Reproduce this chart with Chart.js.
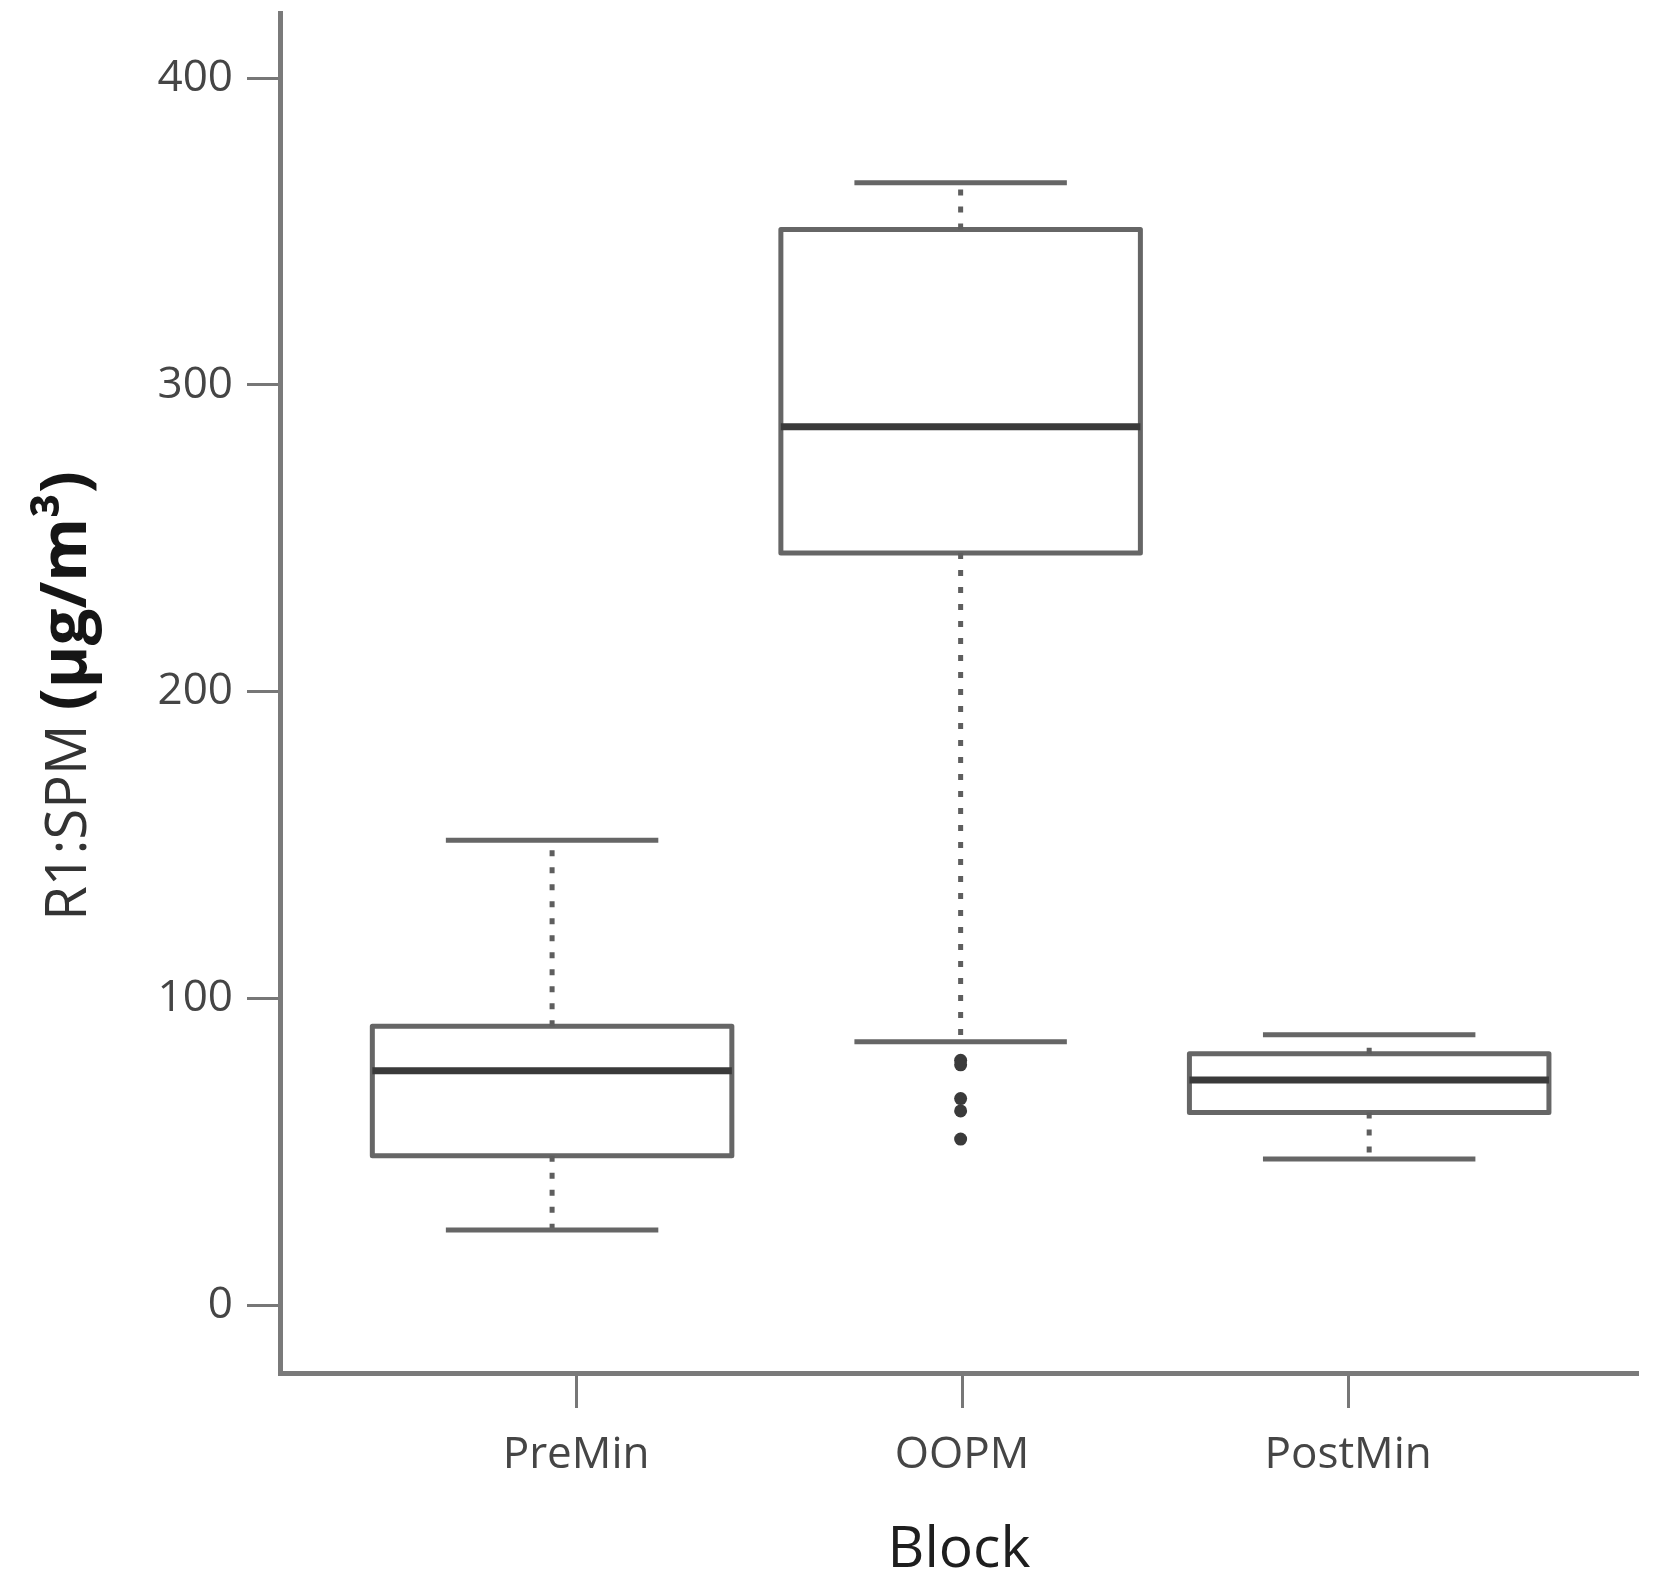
<!DOCTYPE html>
<html>
<head>
<meta charset="utf-8">
<script src="https://cdn.jsdelivr.net/npm/chart.js@4.4.1/dist/chart.umd.min.js"></script>
<style>
  html, body { margin: 0; padding: 0; background: #ffffff; }
  #wrap { width: 1671px; height: 1595px; position: relative; }
  canvas { display: block; }
</style>
</head>
<body>
<div id="wrap"><canvas id="c" width="1671" height="1595"></canvas></div>
<script>
// ---------------- data ----------------
const categories   = ['PreMin', 'OOPM', 'PostMin'];
const whiskerLow   = [24.7, 86.0, 47.8];
const q1           = [48.9, 245.3, 63.0];
const median       = [76.6, 286.4, 73.6];
const q3           = [91.1, 350.7, 82.1];
const whiskerHigh  = [151.7, 365.9, 88.3];
const outlierGroup  = ['OOPM', 'OOPM', 'OOPM', 'OOPM', 'OOPM'];
const outlierValues = [80.0, 78.5, 67.5, 63.5, 54.3];
const yTicks = [0, 100, 200, 300, 400];
const yTitleMain = 'R1:SPM';
const yTitleUnit = '(μg/m³)';
const xTitle = 'Block';

// ---------------- styles ----------------
const BOX_HALF = 0.44;   // half box width, in category units
const CAP_HALF = 0.26;   // half whisker-cap width, in category units
const AXIS_GREY = '#7a7a7a';
const LINE_GREY = '#666666';
const FONT = "'Open Sans', 'Noto Sans', sans-serif";

const pos = i => i + 1;

// ---------------- datasets built from the arrays ----------------
const boxData = [];
const whiskerData = [];
const capData = [];
const medianData = [];
categories.forEach((c, i) => {
  const x = pos(i);
  boxData.push({ x: x - BOX_HALF, y: q1[i] }, { x: x + BOX_HALF, y: q1[i] },
               { x: x + BOX_HALF, y: q3[i] }, { x: x - BOX_HALF, y: q3[i] },
               { x: x - BOX_HALF, y: q1[i] }, { x, y: null });
  whiskerData.push({ x, y: q3[i] }, { x, y: whiskerHigh[i] }, { x, y: null },
                   { x, y: q1[i] }, { x, y: whiskerLow[i] }, { x, y: null });
  capData.push({ x: x - CAP_HALF, y: whiskerHigh[i] }, { x: x + CAP_HALF, y: whiskerHigh[i] }, { x, y: null },
               { x: x - CAP_HALF, y: whiskerLow[i] }, { x: x + CAP_HALF, y: whiskerLow[i] }, { x, y: null });
  medianData.push({ x: x - BOX_HALF, y: median[i] }, { x: x + BOX_HALF, y: median[i] }, { x, y: null });
});
const outlierData = outlierValues.map((v, k) => ({ x: pos(categories.indexOf(outlierGroup[k])), y: v }));

// ---------------- y-axis title with mixed fonts ----------------
const yTitlePlugin = {
  id: 'yTitleMixed',
  afterDraw(chart) {
    const { ctx, chartArea } = chart;
    const cy = (chartArea.top + chartArea.bottom) / 2 + 3;
    const fMain = "normal 56px " + FONT;
    const fUnit = "bold 65px " + FONT;
    ctx.save();
    ctx.font = fMain;
    const w1 = ctx.measureText(yTitleMain).width;
    const gap = ctx.measureText(' ').width;
    ctx.font = fUnit;
    const w2 = ctx.measureText(yTitleUnit).width;
    const total = w1 + gap + w2;
    ctx.translate(86, cy);
    ctx.rotate(-Math.PI / 2);
    ctx.textBaseline = 'alphabetic';
    ctx.textAlign = 'left';
    ctx.font = fMain;
    ctx.fillStyle = '#333333';
    ctx.fillText(yTitleMain, -total / 2, 0);
    ctx.font = fUnit;
    ctx.fillStyle = '#161616';
    ctx.fillText(yTitleUnit, -total / 2 + w1 + gap, 0);
    ctx.restore();
  }
};

const setTicks = list => scale => { scale.ticks = list.map(v => ({ value: v })); };
const segLine = { type: 'line', xAxisID: 'x', yAxisID: 'y', pointRadius: 0, spanGaps: false, fill: false, tension: 0 };

new Chart(document.getElementById('c'), {
  type: 'scatter',
  data: {
    datasets: [
      Object.assign({}, segLine, {
        data: boxData, order: 4, borderColor: LINE_GREY, borderWidth: 5,
        borderJoinStyle: 'round', borderCapStyle: 'round'
      }),
      Object.assign({}, segLine, {
        data: whiskerData, order: 3, borderColor: '#5e5e5e', borderWidth: 5,
        borderDash: [6, 11], borderCapStyle: 'butt'
      }),
      Object.assign({}, segLine, {
        data: capData, order: 2, borderColor: LINE_GREY, borderWidth: 5
      }),
      Object.assign({}, segLine, {
        data: medianData, order: 1, borderColor: '#3a3a3a', borderWidth: 7
      }),
      {
        type: 'scatter', data: outlierData, xAxisID: 'x', yAxisID: 'y', order: 0,
        pointRadius: 6.5, pointBackgroundColor: '#3a3a3a', pointBorderWidth: 0, showLine: false
      }
    ]
  },
  options: {
    responsive: false,
    animation: false,
    devicePixelRatio: 1,
    layout: { padding: { left: 0, top: 13, right: 33, bottom: 0 } },
    plugins: { legend: { display: false }, tooltip: { enabled: false } },
    scales: {
      x: {
        type: 'linear', display: false, min: 0.334, max: 3.658,
        offset: false, grid: { offset: false },
        afterBuildTicks: setTicks(categories.map((c, i) => pos(i)))
      },
      xl: {
        type: 'linear', position: 'bottom', min: 0.233, max: 3.751,
        offset: false,
        afterBuildTicks: setTicks(categories.map((c, i) => pos(i))),
        afterFit: s => { s.height = 222; s.paddingLeft = 0; s.paddingRight = 0; },
        ticks: {
          callback: v => categories[Math.round(v) - 1] || '',
          font: { family: FONT, size: 44 }, color: '#454545', padding: 21, maxRotation: 0, autoSkip: false
        },
        grid: { display: true, drawOnChartArea: false, drawTicks: true, tickLength: 35, tickWidth: 3, tickColor: '#777777', offset: false },
        border: { display: true, color: AXIS_GREY, width: 5 },
        title: { display: true, text: xTitle, font: { family: FONT, size: 57 }, color: '#1e1e1e', padding: { top: 0, bottom: 10 } }
      },
      y: {
        type: 'linear', position: 'left', min: -21.9, max: 421.2,
        afterBuildTicks: setTicks(yTicks),
        afterFit: s => { s.width = 280; s.paddingTop = 0; s.paddingBottom = 0; },
        ticks: { font: { family: FONT, size: 44 }, color: '#454545', padding: 14 },
        grid: { display: true, drawOnChartArea: false, drawTicks: true, tickLength: 33, tickWidth: 3, tickColor: '#777777' },
        border: { display: true, color: AXIS_GREY, width: 5 },
        title: { display: false }
      }
    }
  },
  plugins: [yTitlePlugin]
});
</script>
</body>
</html>
